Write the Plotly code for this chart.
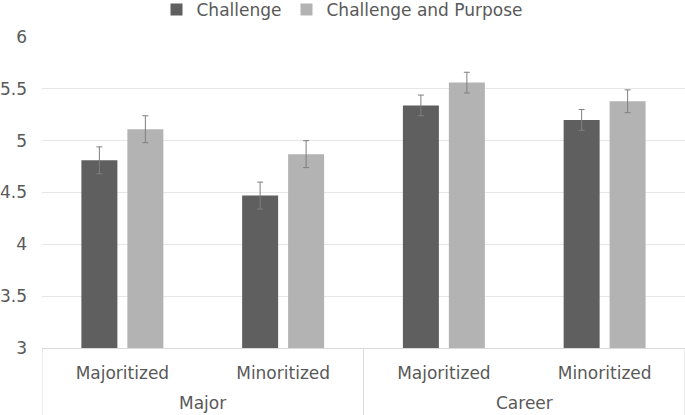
import plotly.graph_objects as go

# category labels (outer group, inner group)
domains = ["Major", "Major", "Career", "Career"]
groups = ["Majoritized", "Minoritized", "Majoritized", "Minoritized"]
outer_labels = ["Major", "Career"]

# mean scores
challenge = [4.81, 4.47, 5.34, 5.20]
challenge_purpose = [5.11, 4.87, 5.56, 5.38]

# error bar half-widths
challenge_err = [0.13, 0.13, 0.10, 0.10]
challenge_purpose_err = [0.13, 0.13, 0.10, 0.11]

font_color = "#595959"
grid_color = "#e6e6e6"
axis_color = "#d9d9d9"

# unique category keys, shown with the inner label only
keys = [d + "|" + g for d, g in zip(domains, groups)]

fig = go.Figure()
fig.add_trace(
    go.Bar(
        x=keys,
        y=challenge,
        name="Challenge",
        marker=dict(color="#5f5f5f", line=dict(width=0)),
        error_y=dict(
            type="data", array=challenge_err, color="#7f7f7f", thickness=1, width=3
        ),
    )
)
fig.add_trace(
    go.Bar(
        x=keys,
        y=challenge_purpose,
        name="Challenge and Purpose",
        marker=dict(color="#b3b3b3", line=dict(width=0)),
        error_y=dict(
            type="data",
            array=challenge_purpose_err,
            color="#7f7f7f",
            thickness=1,
            width=3,
        ),
    )
)

# outer group labels and divider lines under the axis
n_per_group = len(keys) // len(outer_labels)
for i, label in enumerate(outer_labels):
    fig.add_annotation(
        x=i * n_per_group + (n_per_group - 1) / 2,
        xref="x",
        y=-0.177,
        yref="paper",
        text=label,
        showarrow=False,
        yanchor="middle",
        font=dict(size=17, color=font_color),
    )
for i in range(len(outer_labels) + 1):
    fig.add_shape(
        type="line",
        xref="x",
        yref="paper",
        x0=i * n_per_group - 0.5,
        x1=i * n_per_group - 0.5,
        y0=0,
        y1=-0.22,
        line=dict(color=axis_color, width=1),
    )

fig.update_layout(
    width=685,
    height=415,
    margin=dict(l=42, r=0, t=37, b=67, autoexpand=False),
    paper_bgcolor="white",
    plot_bgcolor="white",
    font=dict(family="DejaVu Sans", size=17, color=font_color),
    barmode="group",
    bargap=0.428,
    bargroupgap=0.217,
    showlegend=True,
    legend=dict(
        orientation="h",
        xref="container",
        x=0.5,
        xanchor="center",
        yref="paper",
        y=1.087,
        yanchor="middle",
        font=dict(size=17, color=font_color),
        itemwidth=30,
    ),
)

fig.update_yaxes(
    range=[3, 6],
    dtick=0.5,
    showgrid=True,
    gridcolor=grid_color,
    zeroline=False,
    showline=False,
    ticks="",
    ticklabelstandoff=14,
    automargin=False,
    tickfont=dict(size=17, color=font_color),
)
fig.update_xaxes(
    range=[-0.5, 3.5],
    tickvals=keys,
    ticktext=groups,
    showline=True,
    linecolor=axis_color,
    showgrid=False,
    ticks="",
    ticklabelstandoff=10,
    automargin=False,
    tickfont=dict(size=17, color=font_color),
)

# drop the page's default body margin so the figure fills the window
fig.write_html(
    "out.html",
    config={"displayModeBar": False},
    post_script="document.body.style.margin = '0';",
)
